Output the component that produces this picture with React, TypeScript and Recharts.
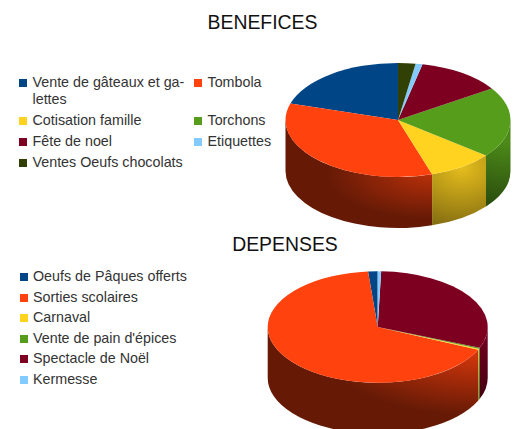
import { PieChart, Pie, Legend } from 'recharts';

const incomeNames = [
  'Vente de gâteaux et ga-lettes', 'Tombola', 'Cotisation famille', 'Torchons',
  'Fête de noel', 'Etiquettes', 'Ventes Oeufs chocolats',
];
const incomeValues = [20.3, 34.6, 9.4, 20, 12.2, 1, 2.5];
const incomeColors = ['#004586', '#ff420e', '#ffd320', '#579d1c', '#7e0021', '#83caff', '#314004'];

const expenseNames = [
  'Oeufs de Pâques offerts', 'Sorties scolaires', 'Carnaval',
  'Vente de pain d\'épices', 'Spectacle de Noël', 'Kermesse',
];
const expenseValues = [1.4, 66.9, 0.3, 0.3, 30.6, 0.5];
const expenseColors = ['#004586', '#ff420e', '#ffd320', '#579d1c', '#7e0021', '#83caff'];

const FONT = '"Liberation Sans", Arial, sans-serif';
const SQUASH = 0.507;
const DEPTH = 51;

const toTable = (names: string[], values: number[], colors: string[]) =>
  names.map((name, i) => ({ name, value: values[i], fill: colors[i] }));

const shade = (hex: string, k: number) => {
  const n = parseInt(hex.slice(1), 16);
  const c = [(n >> 16) & 255, (n >> 8) & 255, n & 255].map((v) => Math.round(v * k));
  return `rgb(${c.join(',')})`;
};

// point on the flattened rim, a in degrees
const rim = (cx: number, cy: number, r: number, a: number) => {
  const t = (a * Math.PI) / 180;
  return { x: cx + r * Math.cos(t), y: cy - r * SQUASH * Math.sin(t) };
};

function TopSector(props: any) {
  const { cx, cy, outerRadius: r, startAngle, endAngle, fill } = props;
  const p1 = rim(cx, cy, r, startAngle);
  const p2 = rim(cx, cy, r, endAngle);
  const large = endAngle - startAngle > 180 ? 1 : 0;
  const d = `M${cx},${cy}L${p1.x},${p1.y}A${r},${r * SQUASH} 0 ${large} 0 ${p2.x},${p2.y}Z`;
  return <path d={d} fill={fill} />;
}

function WallSector(props: any) {
  const { cx, cy, outerRadius: r, startAngle, endAngle, fill, index, prefix, glow } = props;
  // only the front half of the rim shows a wall
  const from = Math.max(startAngle, 180);
  const to = Math.min(endAngle, 360);
  if (to <= from) return <g />;
  const p1 = rim(cx, cy, r, from);
  const p2 = rim(cx, cy, r, to);
  const ry = r * SQUASH;
  const d =
    `M${p1.x},${p1.y}A${r},${ry} 0 0 0 ${p2.x},${p2.y}` +
    `L${p2.x},${p2.y + DEPTH}A${r},${ry} 0 0 1 ${p1.x},${p1.y + DEPTH}Z`;
  const id = `${prefix}-wall-${index}`;
  // wide walls glow from their seam, narrow ones from the middle
  const wide = to - from > 60;
  const c = wide ? p2 : rim(cx, cy, r, (from + to) / 2);
  const radius = wide ? glow.radius : 95;
  const flat = wide ? 0.42 : 0.85;
  const bright = wide ? glow.bright : 0.9;
  return (
    <g>
      <defs>
        <radialGradient
          id={id}
          gradientUnits="userSpaceOnUse"
          cx={c.x}
          cy={c.y}
          r={radius}
          gradientTransform={`translate(${c.x} ${c.y}) scale(1 ${flat}) translate(${-c.x} ${-c.y})`}
        >
          <stop offset="0" stopColor={shade(fill, bright)} />
          <stop offset="1" stopColor={shade(fill, 0.4)} />
        </radialGradient>
      </defs>
      <path d={d} fill={`url(#${id})`} />
    </g>
  );
}

function LegendGrid({ payload, columns, colWidth, rowGap, gap }: any) {
  // the wall pie feeds the legend too, keep one entry per name
  const items = (payload ?? []).filter(
    (item: any, i: number, all: any[]) => all.findIndex((o) => o.value === item.value) === i,
  );
  return (
    <div
      style={{
        display: 'grid',
        gridTemplateColumns: columns === 2 ? `${colWidth}px auto` : 'auto',
        rowGap,
        fontFamily: FONT,
        fontSize: 14.3,
        lineHeight: '17px',
        color: '#333',
      }}
    >
      {items.map((item: any) => (
        <div key={item.value} style={{ display: 'flex', alignItems: 'flex-start' }}>
          <span
            style={{
              flex: 'none',
              width: 8,
              height: 8,
              marginTop: 5,
              marginRight: gap,
              background: item.color,
            }}
          />
          <span>{item.value}</span>
        </div>
      ))}
    </div>
  );
}

function Pie3D({ top, height, title, titleX, titleY, data, prefix, cx, cy, r, glow, legend }: any) {
  return (
    <div style={{ position: 'absolute', left: 0, top }}>
      <PieChart width={518} height={height} margin={{ top: 0, right: 0, bottom: 0, left: 0 }}>
        <text x={titleX} y={titleY} textAnchor="middle" fontFamily={FONT} fontSize={19.4} fill="#111">
          {title}
        </text>
        <Pie
          data={data}
          dataKey="value"
          nameKey="name"
          cx={cx}
          cy={cy}
          outerRadius={r}
          startAngle={90}
          endAngle={450}
          stroke="none"
          legendType="none"
          isAnimationActive={false}
          shape={(p: any) => <WallSector {...p} prefix={prefix} glow={glow} />}
        />
        <Pie
          data={data}
          dataKey="value"
          nameKey="name"
          cx={cx}
          cy={cy}
          outerRadius={r}
          startAngle={90}
          endAngle={450}
          stroke="none"
          legendType="square"
          isAnimationActive={false}
          shape={TopSector}
        />
        <Legend
          layout="vertical"
          align="center"
          verticalAlign="middle"
          itemSorter={null}
          wrapperStyle={legend.wrapper}
          content={(p: any) => <LegendGrid {...p} {...legend.grid} />}
        />
      </PieChart>
    </div>
  );
}

export default function App() {
  return (
    <div style={{ position: 'absolute', left: 0, top: 0, width: 518, height: 429, background: '#fff', overflow: 'hidden' }}>
      <Pie3D
        top={0}
        height={232}
        title="BENEFICES"
        titleX={262.5}
        titleY={29}
        prefix="income"
        data={toTable(incomeNames, incomeValues, incomeColors)}
        cx={398}
        cy={120}
        r={112.5}
        glow={{ radius: 105, bright: 0.72 }}
        legend={{
          wrapper: { left: 19, top: 74, width: 260 },
          grid: { columns: 2, colWidth: 175, rowGap: 4, gap: 5.5 },
        }}
      />
      <Pie3D
        top={232}
        height={197}
        title="DEPENSES"
        titleX={285}
        titleY={19}
        prefix="expense"
        data={toTable(expenseNames, expenseValues, expenseColors)}
        cx={377.7}
        cy={95}
        r={110}
        glow={{ radius: 155, bright: 0.85 }}
        legend={{
          wrapper: { left: 20, top: 36, width: 230 },
          grid: { columns: 1, rowGap: 3.6, gap: 5 },
        }}
      />
    </div>
  );
}
